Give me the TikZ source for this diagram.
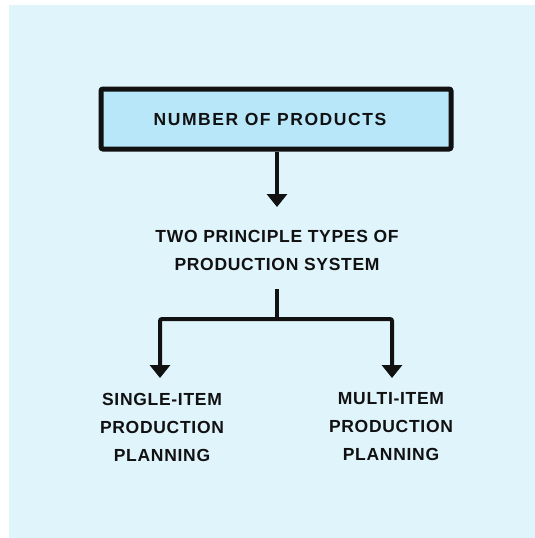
\documentclass[tikz,border=0pt]{standalone}
\usepackage{fontspec}
\newfontfamily\handfont[LetterSpace=4]{Liberation Sans}
\newfontfamily\handwide[LetterSpace=9]{Liberation Sans}
\usetikzlibrary{arrows.meta}
\definecolor{bgblue}{HTML}{E0F4FC}
\definecolor{boxblue}{HTML}{B9E7FA}
\definecolor{ink}{HTML}{111111}
\begin{document}
\begin{tikzpicture}[x=1pt,y=-1pt,
  lbl/.style={font=\handfont\bfseries\fontsize{17.5}{28}\selectfont, text=ink, align=center, inner sep=0pt},
  conn/.style={draw=ink, line width=4pt},
  tip/.style={-{Triangle[width=20pt,length=13pt]}}]
\useasboundingbox (0,0) rectangle (535,538);
\fill[white] (0,0) rectangle (535,538);
\fill[bgblue] (9,5) rectangle (535,538);
\node[lbl, font=\handwide\bfseries\fontsize{17.5}{28}\selectfont, draw=ink, fill=boxblue, line width=5pt, rounded corners=2pt,
  minimum width=350pt, minimum height=60pt] (top) at (276,119) {NUMBER OF PRODUCTS\hspace*{12pt}};
\node[lbl] (mid) at (277,250) {TWO PRINCIPLE TYPES OF\\PRODUCTION SYSTEM};
\node[lbl] (left) at (162,427) {SINGLE-ITEM\\PRODUCTION\\PLANNING};
\node[lbl] (right) at (391,427) {MULTI-ITEM\\PRODUCTION\\PLANNING};
\coordinate (split) at (277,319);
\draw[conn, tip] (top.south -| mid.north) -- (277,207);
\draw[conn] (277,289) -- (split);
\draw[conn, tip, rounded corners=2pt] (split) -| (160,378);
\draw[conn, tip, rounded corners=2pt] (split) -| (392,378);
\end{tikzpicture}
\end{document}
